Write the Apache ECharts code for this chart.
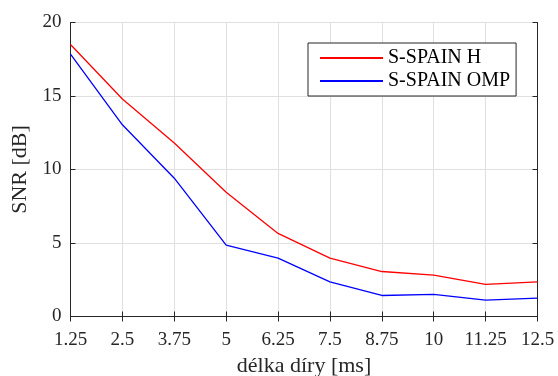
<!DOCTYPE html>
<html>
<head>
<meta charset="utf-8">
<script src="https://cdn.jsdelivr.net/npm/echarts@6/dist/echarts.min.js"></script>
<style>
  html, body { margin: 0; padding: 0; background: #fff; }
  #chart { width: 558px; height: 376px; }
</style>
</head>
<body>
<div id="chart"></div>
<script>
// Gap length in ms (x categories)
const gapLengths = ['1.25', '2.5', '3.75', '5', '6.25', '7.5', '8.75', '10', '11.25', '12.5'];
// SNR in dB for each reconstruction method
const snrH   = [18.5, 14.8, 11.8, 8.45, 5.65, 3.97, 3.06, 2.82, 2.18, 2.36];
const snrOMP = [17.85, 13.04, 9.41, 4.86, 3.97, 2.36, 1.43, 1.5, 1.12, 1.25];
const seriesNames = ['S-SPAIN H', 'S-SPAIN OMP'];

const FONT = '"Liberation Serif", "Times New Roman", serif';
const AXIS_COLOR = '#262626';
const GRID_COLOR = '#e0e0e0';

const chart = echarts.init(document.getElementById('chart'), null, { renderer: 'canvas' });

// top/right axes close the box, ticks only
const boxAxis = {
  axisLine: { show: true, lineStyle: { color: AXIS_COLOR, width: 1 } },
  axisTick: { show: true, inside: true, length: 5, lineStyle: { color: AXIS_COLOR } },
  axisLabel: { show: false },
  splitLine: { show: false }
};

chart.setOption({
  animation: false,
  backgroundColor: '#ffffff',
  grid: {
    left: 70.5, right: 20.5, top: 22.5, bottom: 59.5,
    containLabel: false,
    outerBoundsMode: 'none'
  },
  legend: {
    data: seriesNames,
    orient: 'vertical',
    left: 308,
    top: 43,
    padding: [5, 6, 5, 12],
    itemGap: 3,
    itemWidth: 63,
    itemHeight: 2,
    icon: 'rect',
    backgroundColor: '#ffffff',
    borderColor: AXIS_COLOR,
    borderWidth: 1,
    borderRadius: 0,
    textStyle: { fontFamily: FONT, fontSize: 20, color: '#000' }
  },
  xAxis: [
    {
      type: 'category',
      data: gapLengths,
      boundaryGap: false,
      name: 'délka díry [ms]',
      nameLocation: 'middle',
      nameGap: 39,
      nameTextStyle: { fontFamily: FONT, fontSize: 22, color: '#262626' },
      axisLine: { show: true, lineStyle: { color: AXIS_COLOR, width: 1 } },
      axisTick: { show: true, inside: true, length: 5, alignWithLabel: true, lineStyle: { color: AXIS_COLOR } },
      axisLabel: { fontFamily: FONT, fontSize: 19, color: '#262626', margin: 14, interval: 0 },
      splitLine: { show: true, lineStyle: { color: GRID_COLOR, width: 1 } }
    },
    Object.assign({ type: 'category', data: gapLengths, boundaryGap: false, position: 'top' }, boxAxis)
  ],
  yAxis: [
    {
      type: 'value',
      min: 0,
      max: 20,
      interval: 5,
      name: 'SNR [dB]',
      nameLocation: 'middle',
      nameGap: 36,
      nameTextStyle: { fontFamily: FONT, fontSize: 22, color: '#262626' },
      axisLine: { show: true, lineStyle: { color: AXIS_COLOR, width: 1 } },
      axisTick: { show: true, inside: true, length: 5, lineStyle: { color: AXIS_COLOR } },
      axisLabel: { fontFamily: FONT, fontSize: 19, color: '#262626', margin: 9 },
      splitLine: { show: true, lineStyle: { color: GRID_COLOR, width: 1 } }
    },
    Object.assign({ type: 'value', min: 0, max: 20, interval: 5, position: 'right' }, boxAxis)
  ],
  series: [
    {
      name: seriesNames[0],
      type: 'line',
      data: snrH,
      symbol: 'none',
      color: '#ff0000',
      lineStyle: { color: '#ff0000', width: 1.3 }
    },
    {
      name: seriesNames[1],
      type: 'line',
      data: snrOMP,
      symbol: 'none',
      color: '#0000ff',
      lineStyle: { color: '#0000ff', width: 1.3 }
    }
  ]
});
</script>
</body>
</html>
